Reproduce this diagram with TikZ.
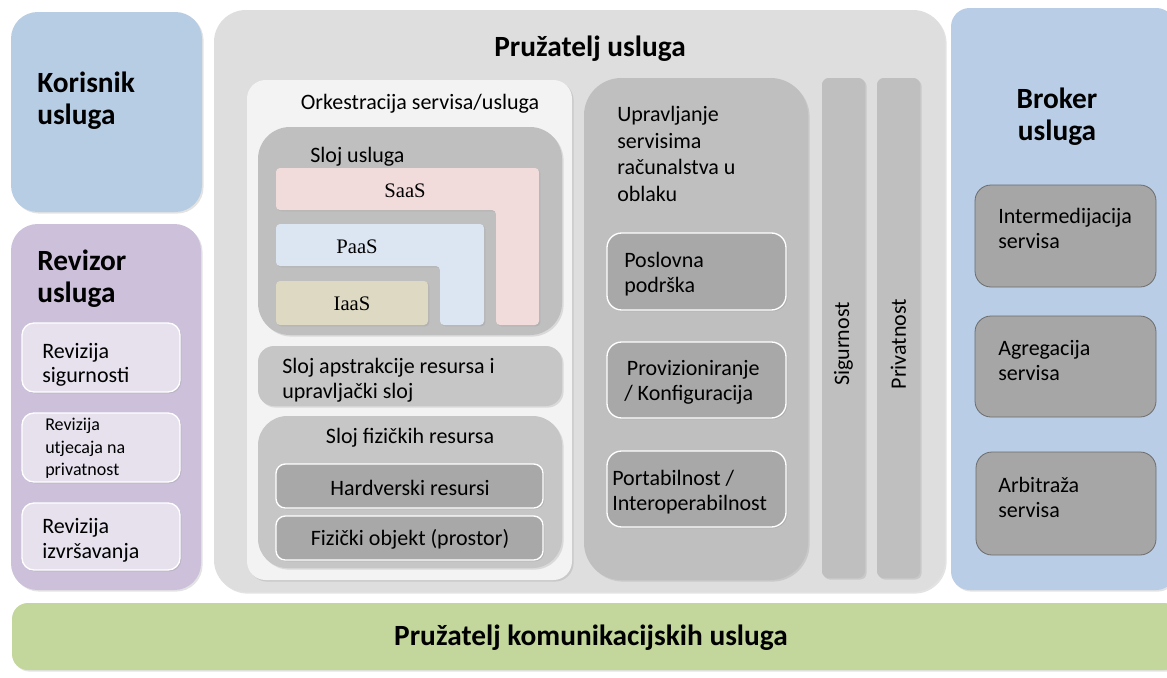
\documentclass[tikz,border=0pt]{standalone}
\usepackage{fontspec}
\setmainfont{Carlito}
\newfontfamily\saasfont{Liberation Serif}
\usetikzlibrary{fit,shadows}
\definecolor{korC}{HTML}{B7CDE4}
\definecolor{revC}{HTML}{CCC0DA}
\definecolor{revsubC}{HTML}{E6E1ED}
\definecolor{pruC}{HTML}{DEDEDE}
\definecolor{orkC}{HTML}{F3F3F3}
\definecolor{slojC}{HTML}{BFBFBF}
\definecolor{absC}{HTML}{C6C6C6}
\definecolor{hwC}{HTML}{A8A8A8}
\definecolor{broC}{HTML}{B9CDE6}
\definecolor{brosubC}{HTML}{A6A6A6}
\definecolor{greenC}{HTML}{C3D69B}
\definecolor{saasC}{HTML}{F2DCDB}
\definecolor{paasC}{HTML}{DCE6F2}
\definecolor{iaasC}{HTML}{DDD9C3}
\begin{document}
\begin{tikzpicture}[x=0.75pt,y=-0.75pt,
  pane/.style={inner sep=0pt, rounded corners=#1, draw=none,
    drop shadow={opacity=0.22, shadow xshift=1.2pt, shadow yshift=-1.2pt}},
  subpane/.style={inner sep=0pt, rounded corners=#1, draw=white, line width=1pt,
    drop shadow={opacity=0.22, shadow xshift=1pt, shadow yshift=-1pt}},
  brobox/.style={inner sep=0pt, rounded corners=12pt, fill=brosubC, draw=gray!85!black, line width=0.6pt},
  bigtitle/.style={inner sep=0pt, font=\fontsize{22}{24}\selectfont\bfseries, align=left},
  body/.style={inner sep=0pt, font=\fontsize{16.5}{19}\selectfont, align=left},
  small/.style={inner sep=0pt, font=\fontsize{13.5}{17}\selectfont, align=left},
  saas/.style={inner sep=0pt, font=\fontsize{15.5}{17}\selectfont\saasfont}
]
\useasboundingbox (0,0) rectangle (1167,678);
\fill[white] (0,0) rectangle (1167,678);

% --- Korisnik usluga
\node[pane=20pt, fill=korC, fit={(11,12) (202,212)}] (kor) {};
\node[bigtitle, anchor=north west] (korT) at (37,72) {Korisnik\\usluga};

% --- Revizor usluga
\node[pane=20pt, fill=revC, fit={(11,224) (201,590)}] (rev) {};
\node[bigtitle, anchor=north west] (revT) at (37,250) {Revizor\\usluga};
\node[subpane=9pt, fill=revsubC, fit={(22,323) (180,392)}] (rev1) {};
\node[body, anchor=north west, font=\fontsize{16.5}{18}\selectfont] (rev1T) at (42,343) {Revizija\\sigurnosti};
\node[subpane=9pt, fill=revsubC, fit={(22,413) (180,482)}] (rev2) {};
\node[small, anchor=north west] (rev2T) at (45,418) {Revizija\\utjecaja na\\privatnost};
\node[subpane=9pt, fill=revsubC, fit={(22,503) (180,570)}] (rev3) {};
\node[body, anchor=north west, font=\fontsize{16.5}{18.8}\selectfont] (rev3T) at (42,518) {Revizija\\izvršavanja};

% --- Pružatelj usluga
\node[pane=24pt, fill=pruC, fit={(214,10) (945,592)}] (pru) {};
\node[bigtitle, anchor=north] (pruT) at (590,36) {Pružatelj usluga};

% Orkestracija
\node[pane=14pt, fill=orkC, fit={(247,80) (572,580)}] (ork) {};
\node[body, anchor=north] (orkT) at (420,94) {Orkestracija servisa/usluga};

% Sloj usluga
\node[pane=24pt, fill=slojC, fit={(258,127) (562,335)}] (sloj) {};
\node[body, anchor=north west] (slojT) at (310,147) {Sloj usluga};
\path[fill=saasC, rounded corners=3pt, drop shadow={opacity=0.2, shadow xshift=1pt, shadow yshift=-1pt}]
  (276,168) -- (539,168) -- (539,325) -- (496,325) -- (496,210) -- (276,210) -- cycle;
\node[saas] (saasT) at (405,191) {SaaS};
\path[fill=paasC, rounded corners=3pt, drop shadow={opacity=0.2, shadow xshift=1pt, shadow yshift=-1pt}]
  (276,224) -- (484,224) -- (484,325) -- (440,325) -- (440,266) -- (276,266) -- cycle;
\node[saas] (paasT) at (357,247) {PaaS};
\node[inner sep=0pt, rounded corners=3pt, fill=iaasC, fit={(276,281) (428,325)},
  drop shadow={opacity=0.2, shadow xshift=1pt, shadow yshift=-1pt}] (iaas) {};
\node[saas] (iaasT) at (352,304) {IaaS};

% Sloj apstrakcije
\node[pane=12pt, fill=absC, fit={(258,346) (562,406)}] (abs) {};
\node[body, anchor=north west] (absT) at (282,358) {Sloj apstrakcije resursa i\\upravljački sloj};

% Sloj fizičkih resursa
\node[pane=22pt, fill=absC, fit={(258,416) (562,568)}] (fiz) {};
\node[body, anchor=north] (fizT) at (410,428) {Sloj fizičkih resursa};
\node[subpane=7pt, fill=hwC, fit={(276,464) (543,508)}] (hw) {};
\node[body] (hwT) at (410,488) {Hardverski resursi};
\node[subpane=7pt, fill=hwC, fit={(276,516) (543,560)}] (obj) {};
\node[body] (objT) at (410,539) {Fizički objekt (prostor)};

% Upravljanje
\node[pane=28pt, fill=slojC, fit={(584,78) (808,580)}] (upr) {};
\node[body, anchor=north west, font=\fontsize{16.5}{20}\selectfont] (uprT) at (617,106) {Upravljanje\\servisima\\računalstva u\\oblaku};
\node[subpane=11pt, fill=hwC, fit={(607,233) (786,310)}] (pos) {};
\node[body, anchor=north west] (posT) at (624,252) {Poslovna\\podrška};
\node[subpane=11pt, fill=hwC, fit={(607,342) (786,418)}] (prov) {};
\node[body, anchor=north west] (provT) at (624,360) {\hspace*{2pt}Provizioniranje\\/ Konfiguracija};
\node[subpane=11pt, fill=hwC, fit={(607,451) (786,527)}] (port) {};
\node[body, anchor=north west] (portT) at (612,470) {Portabilnost /\\Interoperabilnost};

% Sigurnost / Privatnost
\node[pane=5pt, fill=slojC, fit={(822,78) (865,578)}] (sig) {};
\node[body, rotate=90] (sigT) at (843.5,344) {Sigurnost};
\node[pane=5pt, fill=slojC, fit={(877,78) (920,578)}] (pri) {};
\node[body, rotate=90] (priT) at (898.5,344) {Privatnost};

% --- Broker usluga
\node[pane=14pt, fill=broC, fit={(951,8) (1175,590)}] (bro) {};
\node[bigtitle, anchor=north, align=center] (broT) at (1057,88) {Broker\\usluga};
\node[brobox, fit={(975,185) (1156,287)}] (b1) {};
\node[body, anchor=north west] (b1T) at (998,208) {Intermedijacija\\servisa};
\node[brobox, fit={(975,316) (1156,417)}] (b2) {};
\node[body, anchor=north west] (b2T) at (998,340) {Agregacija\\servisa};
\node[brobox, fit={(976,452) (1156,555)}] (b3) {};
\node[body, anchor=north west] (b3T) at (998,477) {Arbitraža\\servisa};

% --- Pružatelj komunikacijskih usluga
\node[pane=12pt, fill=greenC, fit={(12,603) (1180,670)}] (kom) {};
\node[bigtitle] (komT) at (591,638) {Pružatelj komunikacijskih usluga};
\end{tikzpicture}
\end{document}
